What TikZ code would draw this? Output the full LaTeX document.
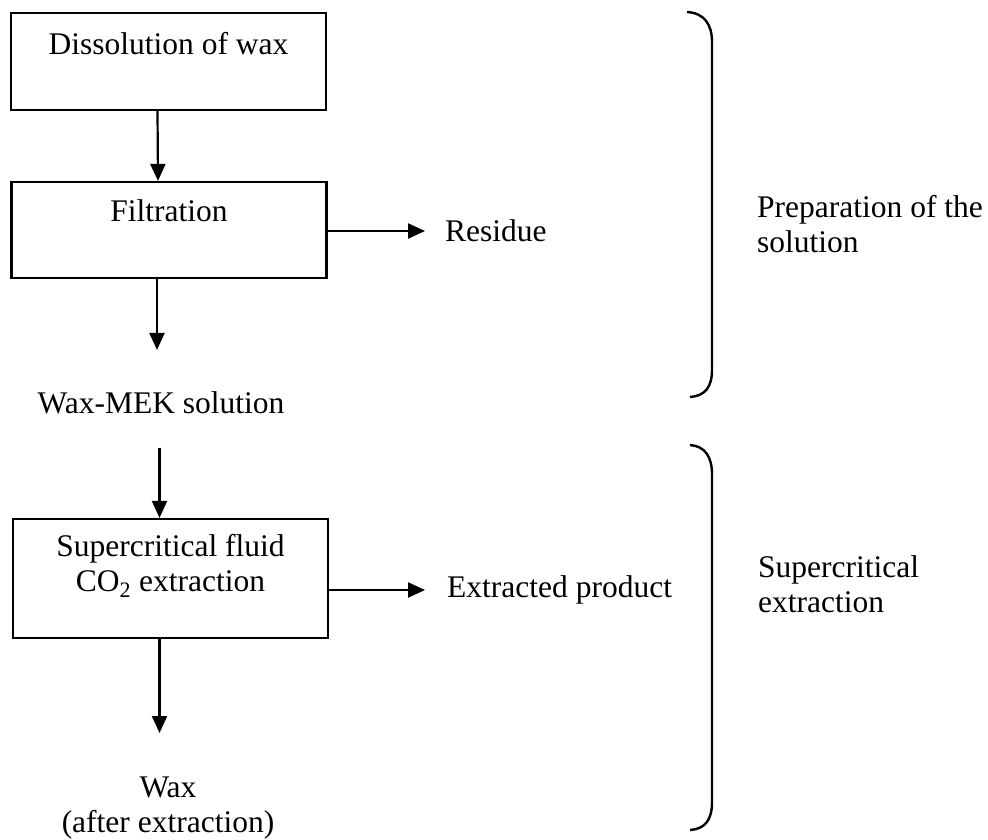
\documentclass[tikz,border=0pt]{standalone}
\usepackage{fontspec}
\setmainfont{Liberation Serif}
\usetikzlibrary{arrows.meta}

\begin{document}
\begin{tikzpicture}[x=1pt,y=-1pt,font=\fontsize{31.5}{35}\selectfont,
    stepbox/.style={draw,line width=2.2pt,inner sep=0pt,minimum width=315pt},
    lbl/.style={anchor=north,inner sep=0pt,align=center},
    txt/.style={inner sep=0pt,align=center},
    arr/.style={line width=2.2pt,-{Triangle[length=17pt,width=15pt]}}]
    \useasboundingbox (0,0) rectangle (988,839);

    \node[stepbox,minimum height=97pt,label={[lbl,yshift=-20.5pt]north:Dissolution of wax}] (dis) at (168.5,61.5) {};
    \node[stepbox,minimum height=96pt,label={[lbl,yshift=-19pt]north:Filtration}] (filt) at (169,230) {};
    \node[txt,anchor=west] (res) at (445,231) {Residue};
    \node[txt,anchor=base] (sol) at (161,413) {Wax-MEK solution};
    \node[stepbox,minimum height=119pt,label={[lbl,yshift=-16.5pt]north:Supercritical fluid\\CO\textsubscript{2} extraction}] (sfe) at (170.5,578.5) {};
    \node[txt,anchor=west] (ext) at (447,590) {Extracted product};
    \node[txt,anchor=north] (wax) at (168,777) {Wax\\(after extraction)};

    \path[arr]
    ([xshift=-11pt]dis.south) edge ([xshift=-11pt]filt.north)
    ([xshift=-12pt]filt.south) edge [shorten >=41pt] ([xshift=-12pt]filt.south |- sol.north)
    (filt.east |- res.west) edge [shorten >=20pt] (res.west)
    ([xshift=-11pt]sfe.north |- sol.south) edge [shorten <=34pt] ([xshift=-11pt]sfe.north)
    (sfe.east |- ext.west) edge [shorten >=22pt] (ext.west)
    ([xshift=-11pt]sfe.south) edge [shorten >=44pt] ([xshift=-11pt]sfe.south |- wax.north)
    ;

    % braces
    \draw[line width=2.4pt] (687,12) .. controls (704,13) and (712,24) .. (712,42) -- (712,370) .. controls (712,387) and (705,396) .. (690,397);
    \draw[line width=2.4pt] (690,445) .. controls (705,446) and (712,457) .. (712,474) -- (712,802) .. controls (712,820) and (705,829) .. (690,830);

    \node[txt,anchor=north west,align=left] (prep) at (757,195.5) {Preparation of the\\solution};
    \node[txt,anchor=north west,align=left] (scx) at (758,555.5) {Supercritical\\extraction};
\end{tikzpicture}
\end{document}
